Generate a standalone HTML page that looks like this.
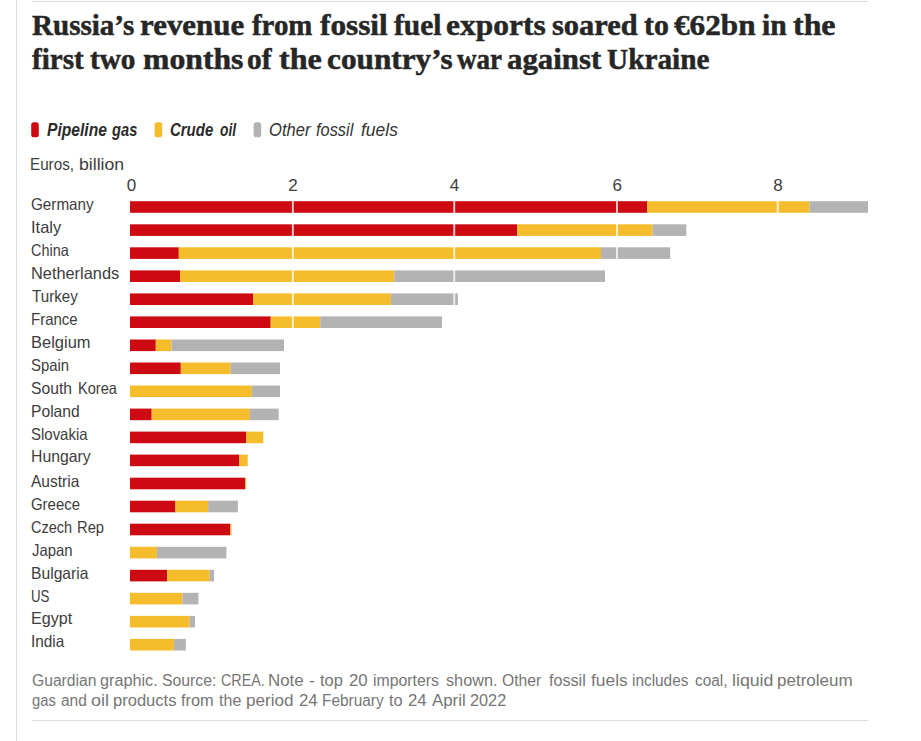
<!DOCTYPE html><html><head><meta charset="utf-8"><title>Russia fossil fuel exports</title><style>
html,body{margin:0;padding:0;background:#fff}
body{width:921px;height:741px;position:relative;overflow:hidden;font-family:"Liberation Sans",sans-serif}
.t{position:absolute;white-space:nowrap;line-height:1;transform-origin:0 0;display:block}
.rule{position:absolute;background:#dcdcdc;height:1px;left:32px;width:836px}
svg{position:absolute;left:0;top:0}
</style></head><body>
<div style="position:absolute;left:16px;top:0;width:1px;height:741px;background:#dcdcdc"></div>
<div class="rule" style="top:1px"></div>
<div class="rule" style="top:720px"></div>
<svg width="921" height="741" viewBox="0 0 921 741"><rect x="130.0" y="201.2" width="517.0" height="11.6" fill="#cd0a12"/><rect x="647.0" y="201.2" width="162.6" height="11.6" fill="#f5bd2c"/><rect x="809.6" y="201.2" width="58.4" height="11.6" fill="#b3b3b4"/><rect x="130.0" y="224.3" width="387.3" height="11.6" fill="#cd0a12"/><rect x="517.3" y="224.3" width="135.3" height="11.6" fill="#f5bd2c"/><rect x="652.6" y="224.3" width="33.7" height="11.6" fill="#b3b3b4"/><rect x="130.0" y="247.3" width="48.8" height="11.6" fill="#cd0a12"/><rect x="178.8" y="247.3" width="422.2" height="11.6" fill="#f5bd2c"/><rect x="601.0" y="247.3" width="69.2" height="11.6" fill="#b3b3b4"/><rect x="130.0" y="270.4" width="50.0" height="11.6" fill="#cd0a12"/><rect x="180.0" y="270.4" width="214.3" height="11.6" fill="#f5bd2c"/><rect x="394.3" y="270.4" width="210.7" height="11.6" fill="#b3b3b4"/><rect x="130.0" y="293.4" width="123.3" height="11.6" fill="#cd0a12"/><rect x="253.3" y="293.4" width="137.6" height="11.6" fill="#f5bd2c"/><rect x="390.9" y="293.4" width="67.1" height="11.6" fill="#b3b3b4"/><rect x="130.0" y="316.4" width="140.7" height="11.6" fill="#cd0a12"/><rect x="270.7" y="316.4" width="49.5" height="11.6" fill="#f5bd2c"/><rect x="320.2" y="316.4" width="121.8" height="11.6" fill="#b3b3b4"/><rect x="130.0" y="339.5" width="25.8" height="11.6" fill="#cd0a12"/><rect x="155.8" y="339.5" width="15.7" height="11.6" fill="#f5bd2c"/><rect x="171.5" y="339.5" width="112.5" height="11.6" fill="#b3b3b4"/><rect x="130.0" y="362.5" width="50.8" height="11.6" fill="#cd0a12"/><rect x="180.8" y="362.5" width="49.9" height="11.6" fill="#f5bd2c"/><rect x="230.7" y="362.5" width="49.3" height="11.6" fill="#b3b3b4"/><rect x="130.0" y="385.5" width="121.8" height="11.6" fill="#f5bd2c"/><rect x="251.8" y="385.5" width="28.2" height="11.6" fill="#b3b3b4"/><rect x="130.0" y="408.6" width="21.7" height="11.6" fill="#cd0a12"/><rect x="151.7" y="408.6" width="98.2" height="11.6" fill="#f5bd2c"/><rect x="249.9" y="408.6" width="28.8" height="11.6" fill="#b3b3b4"/><rect x="130.0" y="431.6" width="116.0" height="11.6" fill="#cd0a12"/><rect x="246.0" y="431.6" width="17.3" height="11.6" fill="#f5bd2c"/><rect x="130.0" y="454.6" width="109.4" height="11.6" fill="#cd0a12"/><rect x="239.4" y="454.6" width="8.3" height="11.6" fill="#f5bd2c"/><rect x="130.0" y="477.7" width="115.3" height="11.6" fill="#cd0a12"/><rect x="245.3" y="477.7" width="0.9" height="11.6" fill="#f5bd2c"/><rect x="130.0" y="500.7" width="45.5" height="11.6" fill="#cd0a12"/><rect x="175.5" y="500.7" width="32.6" height="11.6" fill="#f5bd2c"/><rect x="208.1" y="500.7" width="29.8" height="11.6" fill="#b3b3b4"/><rect x="130.0" y="523.7" width="100.3" height="11.6" fill="#cd0a12"/><rect x="230.3" y="523.7" width="1.2" height="11.6" fill="#f5bd2c"/><rect x="130.0" y="546.8" width="26.9" height="11.6" fill="#f5bd2c"/><rect x="156.9" y="546.8" width="69.5" height="11.6" fill="#b3b3b4"/><rect x="130.0" y="569.8" width="37.2" height="11.6" fill="#cd0a12"/><rect x="167.2" y="569.8" width="42.5" height="11.6" fill="#f5bd2c"/><rect x="209.7" y="569.8" width="4.3" height="11.6" fill="#b3b3b4"/><rect x="130.0" y="592.8" width="52.4" height="11.6" fill="#f5bd2c"/><rect x="182.4" y="592.8" width="16.0" height="11.6" fill="#b3b3b4"/><rect x="130.0" y="615.9" width="59.7" height="11.6" fill="#f5bd2c"/><rect x="189.7" y="615.9" width="5.3" height="11.6" fill="#b3b3b4"/><rect x="130.0" y="638.9" width="43.9" height="11.6" fill="#f5bd2c"/><rect x="173.9" y="638.9" width="11.9" height="11.6" fill="#b3b3b4"/><rect x="291.9" y="196" width="1.9" height="460" fill="#fff" fill-opacity="0.78"/><rect x="453.3" y="196" width="1.9" height="460" fill="#fff" fill-opacity="0.78"/><rect x="616.0" y="196" width="1.9" height="460" fill="#fff" fill-opacity="0.78"/><rect x="776.8" y="196" width="1.9" height="460" fill="#fff" fill-opacity="0.78"/><rect x="31.2" y="122.3" width="7.6" height="14.9" rx="2.5" fill="#cd0a12"/><rect x="154.6" y="122.3" width="7.6" height="14.9" rx="2.5" fill="#f5bd2c"/><rect x="253.6" y="122.3" width="7.6" height="14.9" rx="2.5" fill="#b3b3b4"/></svg>
<div class="t" style="left:32.00px;top:10.27px;font:normal bold 30px/1 'Liberation Serif',serif;color:#262626;-webkit-text-stroke:0.5px #262626;transform:scaleX(0.9684)">Russia’s</div>
<div class="t" style="left:139.90px;top:10.27px;font:normal bold 30px/1 'Liberation Serif',serif;color:#262626;-webkit-text-stroke:0.5px #262626;transform:scaleX(1.0310)">revenue</div>
<div class="t" style="left:252.00px;top:10.27px;font:normal bold 30px/1 'Liberation Serif',serif;color:#262626;-webkit-text-stroke:0.5px #262626;transform:scaleX(0.9623)">from</div>
<div class="t" style="left:319.90px;top:10.27px;font:normal bold 30px/1 'Liberation Serif',serif;color:#262626;-webkit-text-stroke:0.5px #262626;transform:scaleX(1.0421)">fossil</div>
<div class="t" style="left:393.80px;top:10.27px;font:normal bold 30px/1 'Liberation Serif',serif;color:#262626;-webkit-text-stroke:0.5px #262626;transform:scaleX(0.9835)">fuel</div>
<div class="t" style="left:446.45px;top:10.27px;font:normal bold 30px/1 'Liberation Serif',serif;color:#262626;-webkit-text-stroke:0.5px #262626;transform:scaleX(1.0492)">exports</div>
<div class="t" style="left:551.90px;top:10.27px;font:normal bold 30px/1 'Liberation Serif',serif;color:#262626;-webkit-text-stroke:0.5px #262626;transform:scaleX(1.0134)">soared</div>
<div class="t" style="left:643.60px;top:10.27px;font:normal bold 30px/1 'Liberation Serif',serif;color:#262626;-webkit-text-stroke:0.5px #262626;transform:scaleX(0.9921)">to</div>
<div class="t" style="left:673.70px;top:10.27px;font:normal bold 30px/1 'Liberation Serif',serif;color:#262626;-webkit-text-stroke:0.5px #262626;transform:scaleX(1.0409)">€62bn</div>
<div class="t" style="left:762.40px;top:10.27px;font:normal bold 30px/1 'Liberation Serif',serif;color:#262626;-webkit-text-stroke:0.5px #262626;transform:scaleX(0.9868)">in</div>
<div class="t" style="left:792.80px;top:10.27px;font:normal bold 30px/1 'Liberation Serif',serif;color:#262626;-webkit-text-stroke:0.5px #262626;transform:scaleX(1.0636)">the</div>
<div class="t" style="left:32.00px;top:43.67px;font:normal bold 30px/1 'Liberation Serif',serif;color:#262626;-webkit-text-stroke:0.5px #262626;transform:scaleX(0.9697)">first</div>
<div class="t" style="left:90.40px;top:43.67px;font:normal bold 30px/1 'Liberation Serif',serif;color:#262626;-webkit-text-stroke:0.5px #262626;transform:scaleX(0.9747)">two</div>
<div class="t" style="left:143.10px;top:43.67px;font:normal bold 30px/1 'Liberation Serif',serif;color:#262626;-webkit-text-stroke:0.5px #262626;transform:scaleX(1.0567)">months</div>
<div class="t" style="left:247.02px;top:43.67px;font:normal bold 30px/1 'Liberation Serif',serif;color:#262626;-webkit-text-stroke:0.5px #262626;transform:scaleX(0.9800)">of</div>
<div class="t" style="left:278.70px;top:43.67px;font:normal bold 30px/1 'Liberation Serif',serif;color:#262626;-webkit-text-stroke:0.5px #262626;transform:scaleX(1.0712)">the</div>
<div class="t" style="left:326.86px;top:43.67px;font:normal bold 30px/1 'Liberation Serif',serif;color:#262626;-webkit-text-stroke:0.5px #262626;transform:scaleX(1.0423)">country’s</div>
<div class="t" style="left:456.50px;top:43.67px;font:normal bold 30px/1 'Liberation Serif',serif;color:#262626;-webkit-text-stroke:0.5px #262626;transform:scaleX(0.9000)">war</div>
<div class="t" style="left:506.90px;top:43.67px;font:normal bold 30px/1 'Liberation Serif',serif;color:#262626;-webkit-text-stroke:0.5px #262626;transform:scaleX(1.0273)">against</div>
<div class="t" style="left:606.80px;top:43.67px;font:normal bold 30px/1 'Liberation Serif',serif;color:#262626;-webkit-text-stroke:0.5px #262626;transform:scaleX(0.9763)">Ukraine</div>
<div class="t" style="left:46.50px;top:121.36px;font:italic bold 18px/1 'Liberation Sans',sans-serif;color:#2b2b2b;transform:scaleX(0.8680)">Pipeline</div>
<div class="t" style="left:112.12px;top:121.36px;font:italic bold 18px/1 'Liberation Sans',sans-serif;color:#2b2b2b;transform:scaleX(0.8155)">gas</div>
<div class="t" style="left:170.00px;top:121.36px;font:italic bold 18px/1 'Liberation Sans',sans-serif;color:#2b2b2b;transform:scaleX(0.8309)">Crude</div>
<div class="t" style="left:219.70px;top:121.36px;font:italic bold 18px/1 'Liberation Sans',sans-serif;color:#2b2b2b;transform:scaleX(0.7638)">oil</div>
<div class="t" style="left:269.20px;top:121.36px;font:italic normal 18px/1 'Liberation Sans',sans-serif;color:#333;transform:scaleX(0.9213)">Other</div>
<div class="t" style="left:316.00px;top:121.36px;font:italic normal 18px/1 'Liberation Sans',sans-serif;color:#333;transform:scaleX(0.9093)">fossil</div>
<div class="t" style="left:360.70px;top:121.36px;font:italic normal 18px/1 'Liberation Sans',sans-serif;color:#333;transform:scaleX(0.9705)">fuels</div>
<div class="t" style="left:29.78px;top:155.88px;font:normal normal 16.5px/1 'Liberation Sans',sans-serif;color:#3d3d3d;transform:scaleX(0.9218)">Euros,</div>
<div class="t" style="left:78.63px;top:155.88px;font:normal normal 16.5px/1 'Liberation Sans',sans-serif;color:#3d3d3d;transform:scaleX(1.0703)">billion</div>
<div class="t" style="left:30.90px;top:195.73px;font:normal normal 16.5px/1 'Liberation Sans',sans-serif;color:#3d3d3d;transform:scaleX(0.9242)">Germany</div>
<div class="t" style="left:30.50px;top:219.13px;font:normal normal 16.5px/1 'Liberation Sans',sans-serif;color:#3d3d3d;transform:scaleX(0.9963)">Italy</div>
<div class="t" style="left:31.10px;top:241.93px;font:normal normal 16.5px/1 'Liberation Sans',sans-serif;color:#3d3d3d;transform:scaleX(0.8740)">China</div>
<div class="t" style="left:30.51px;top:265.13px;font:normal normal 16.5px/1 'Liberation Sans',sans-serif;color:#3d3d3d;transform:scaleX(0.9907)">Netherlands</div>
<div class="t" style="left:31.50px;top:287.73px;font:normal normal 16.5px/1 'Liberation Sans',sans-serif;color:#3d3d3d;transform:scaleX(0.9196)">Turkey</div>
<div class="t" style="left:30.79px;top:311.03px;font:normal normal 16.5px/1 'Liberation Sans',sans-serif;color:#3d3d3d;transform:scaleX(0.9088)">France</div>
<div class="t" style="left:30.50px;top:334.23px;font:normal normal 16.5px/1 'Liberation Sans',sans-serif;color:#3d3d3d;transform:scaleX(0.9989)">Belgium</div>
<div class="t" style="left:31.10px;top:357.13px;font:normal normal 16.5px/1 'Liberation Sans',sans-serif;color:#3d3d3d;transform:scaleX(0.8995)">Spain</div>
<div class="t" style="left:31.10px;top:379.83px;font:normal normal 16.5px/1 'Liberation Sans',sans-serif;color:#3d3d3d;transform:scaleX(0.9501)">South</div>
<div class="t" style="left:77.52px;top:379.83px;font:normal normal 16.5px/1 'Liberation Sans',sans-serif;color:#3d3d3d;transform:scaleX(0.8825)">Korea</div>
<div class="t" style="left:30.75px;top:403.03px;font:normal normal 16.5px/1 'Liberation Sans',sans-serif;color:#3d3d3d;transform:scaleX(0.9482)">Poland</div>
<div class="t" style="left:31.10px;top:425.93px;font:normal normal 16.5px/1 'Liberation Sans',sans-serif;color:#3d3d3d;transform:scaleX(0.9068)">Slovakia</div>
<div class="t" style="left:30.54px;top:448.43px;font:normal normal 16.5px/1 'Liberation Sans',sans-serif;color:#3d3d3d;transform:scaleX(0.9579)">Hungary</div>
<div class="t" style="left:31.10px;top:473.13px;font:normal normal 16.5px/1 'Liberation Sans',sans-serif;color:#3d3d3d;transform:scaleX(0.9410)">Austria</div>
<div class="t" style="left:31.10px;top:496.03px;font:normal normal 16.5px/1 'Liberation Sans',sans-serif;color:#3d3d3d;transform:scaleX(0.9048)">Greece</div>
<div class="t" style="left:31.10px;top:519.03px;font:normal normal 16.5px/1 'Liberation Sans',sans-serif;color:#3d3d3d;transform:scaleX(0.8800)">Czech</div>
<div class="t" style="left:77.11px;top:519.03px;font:normal normal 16.5px/1 'Liberation Sans',sans-serif;color:#3d3d3d;transform:scaleX(0.8937)">Rep</div>
<div class="t" style="left:31.50px;top:542.03px;font:normal normal 16.5px/1 'Liberation Sans',sans-serif;color:#3d3d3d;transform:scaleX(0.9022)">Japan</div>
<div class="t" style="left:30.75px;top:564.83px;font:normal normal 16.5px/1 'Liberation Sans',sans-serif;color:#3d3d3d;transform:scaleX(0.9493)">Bulgaria</div>
<div class="t" style="left:30.90px;top:588.03px;font:normal normal 16.5px/1 'Liberation Sans',sans-serif;color:#3d3d3d;transform:scaleX(0.8031)">US</div>
<div class="t" style="left:30.52px;top:610.13px;font:normal normal 16.5px/1 'Liberation Sans',sans-serif;color:#3d3d3d;transform:scaleX(0.9758)">Egypt</div>
<div class="t" style="left:30.57px;top:633.03px;font:normal normal 16.5px/1 'Liberation Sans',sans-serif;color:#3d3d3d;transform:scaleX(0.9297)">India</div>
<div class="t" style="left:126.70px;top:176.71px;font:normal normal 17px/1 'Liberation Sans',sans-serif;color:#3d3d3d;transform:scaleX(1.0000)">0</div>
<div class="t" style="left:288.30px;top:176.71px;font:normal normal 17px/1 'Liberation Sans',sans-serif;color:#3d3d3d;transform:scaleX(1.0000)">2</div>
<div class="t" style="left:449.70px;top:176.71px;font:normal normal 17px/1 'Liberation Sans',sans-serif;color:#3d3d3d;transform:scaleX(1.0000)">4</div>
<div class="t" style="left:612.40px;top:176.71px;font:normal normal 17px/1 'Liberation Sans',sans-serif;color:#3d3d3d;transform:scaleX(1.0000)">6</div>
<div class="t" style="left:773.20px;top:176.71px;font:normal normal 17px/1 'Liberation Sans',sans-serif;color:#3d3d3d;transform:scaleX(1.0000)">8</div>
<div class="t" style="left:31.70px;top:673.16px;font:normal normal 16px/1 'Liberation Sans',sans-serif;color:#767676;transform:scaleX(0.9781)">Guardian</div>
<div class="t" style="left:100.40px;top:673.16px;font:normal normal 16px/1 'Liberation Sans',sans-serif;color:#767676;transform:scaleX(1.0130)">graphic.</div>
<div class="t" style="left:162.40px;top:673.16px;font:normal normal 16px/1 'Liberation Sans',sans-serif;color:#767676;transform:scaleX(0.9852)">Source:</div>
<div class="t" style="left:220.50px;top:673.16px;font:normal normal 16px/1 'Liberation Sans',sans-serif;color:#767676;transform:scaleX(0.8956)">CREA.</div>
<div class="t" style="left:267.95px;top:673.16px;font:normal normal 16px/1 'Liberation Sans',sans-serif;color:#767676;transform:scaleX(1.0548)">Note</div>
<div class="t" style="left:309.40px;top:673.16px;font:normal normal 16px/1 'Liberation Sans',sans-serif;color:#767676;transform:scaleX(1.1000)">-</div>
<div class="t" style="left:319.90px;top:673.16px;font:normal normal 16px/1 'Liberation Sans',sans-serif;color:#767676;transform:scaleX(1.0294)">top</div>
<div class="t" style="left:348.60px;top:673.16px;font:normal normal 16px/1 'Liberation Sans',sans-serif;color:#767676;transform:scaleX(1.0448)">20</div>
<div class="t" style="left:372.61px;top:673.16px;font:normal normal 16px/1 'Liberation Sans',sans-serif;color:#767676;transform:scaleX(0.9897)">importers</div>
<div class="t" style="left:446.20px;top:673.16px;font:normal normal 16px/1 'Liberation Sans',sans-serif;color:#767676;transform:scaleX(1.0152)">shown.</div>
<div class="t" style="left:502.40px;top:673.16px;font:normal normal 16px/1 'Liberation Sans',sans-serif;color:#767676;transform:scaleX(0.9831)">Other</div>
<div class="t" style="left:548.60px;top:673.16px;font:normal normal 16px/1 'Liberation Sans',sans-serif;color:#767676;transform:scaleX(1.0084)">fossil</div>
<div class="t" style="left:591.10px;top:673.16px;font:normal normal 16px/1 'Liberation Sans',sans-serif;color:#767676;transform:scaleX(1.0859)">fuels</div>
<div class="t" style="left:632.34px;top:673.16px;font:normal normal 16px/1 'Liberation Sans',sans-serif;color:#767676;transform:scaleX(0.9601)">includes</div>
<div class="t" style="left:694.90px;top:673.16px;font:normal normal 16px/1 'Liberation Sans',sans-serif;color:#767676;transform:scaleX(0.9595)">coal,</div>
<div class="t" style="left:731.99px;top:673.16px;font:normal normal 16px/1 'Liberation Sans',sans-serif;color:#767676;transform:scaleX(1.1083)">liquid</div>
<div class="t" style="left:776.74px;top:673.16px;font:normal normal 16px/1 'Liberation Sans',sans-serif;color:#767676;transform:scaleX(1.0627)">petroleum</div>
<div class="t" style="left:31.70px;top:692.96px;font:normal normal 16px/1 'Liberation Sans',sans-serif;color:#767676;transform:scaleX(0.9226)">gas</div>
<div class="t" style="left:60.70px;top:692.96px;font:normal normal 16px/1 'Liberation Sans',sans-serif;color:#767676;transform:scaleX(0.9691)">and</div>
<div class="t" style="left:90.90px;top:692.96px;font:normal normal 16px/1 'Liberation Sans',sans-serif;color:#767676;transform:scaleX(1.1195)">oil</div>
<div class="t" style="left:112.67px;top:692.96px;font:normal normal 16px/1 'Liberation Sans',sans-serif;color:#767676;transform:scaleX(1.0337)">products</div>
<div class="t" style="left:181.30px;top:692.96px;font:normal normal 16px/1 'Liberation Sans',sans-serif;color:#767676;transform:scaleX(1.0198)">from</div>
<div class="t" style="left:218.70px;top:692.96px;font:normal normal 16px/1 'Liberation Sans',sans-serif;color:#767676;transform:scaleX(1.0025)">the</div>
<div class="t" style="left:246.33px;top:692.96px;font:normal normal 16px/1 'Liberation Sans',sans-serif;color:#767676;transform:scaleX(1.0686)">period</div>
<div class="t" style="left:298.70px;top:692.96px;font:normal normal 16px/1 'Liberation Sans',sans-serif;color:#767676;transform:scaleX(1.0448)">24</div>
<div class="t" style="left:321.94px;top:692.96px;font:normal normal 16px/1 'Liberation Sans',sans-serif;color:#767676;transform:scaleX(0.9631)">February</div>
<div class="t" style="left:388.60px;top:692.96px;font:normal normal 16px/1 'Liberation Sans',sans-serif;color:#767676;transform:scaleX(1.0189)">to</div>
<div class="t" style="left:407.80px;top:692.96px;font:normal normal 16px/1 'Liberation Sans',sans-serif;color:#767676;transform:scaleX(1.0448)">24</div>
<div class="t" style="left:431.90px;top:692.96px;font:normal normal 16px/1 'Liberation Sans',sans-serif;color:#767676;transform:scaleX(1.0524)">April</div>
<div class="t" style="left:470.00px;top:692.96px;font:normal normal 16px/1 'Liberation Sans',sans-serif;color:#767676;transform:scaleX(1.0169)">2022</div>
</body></html>
